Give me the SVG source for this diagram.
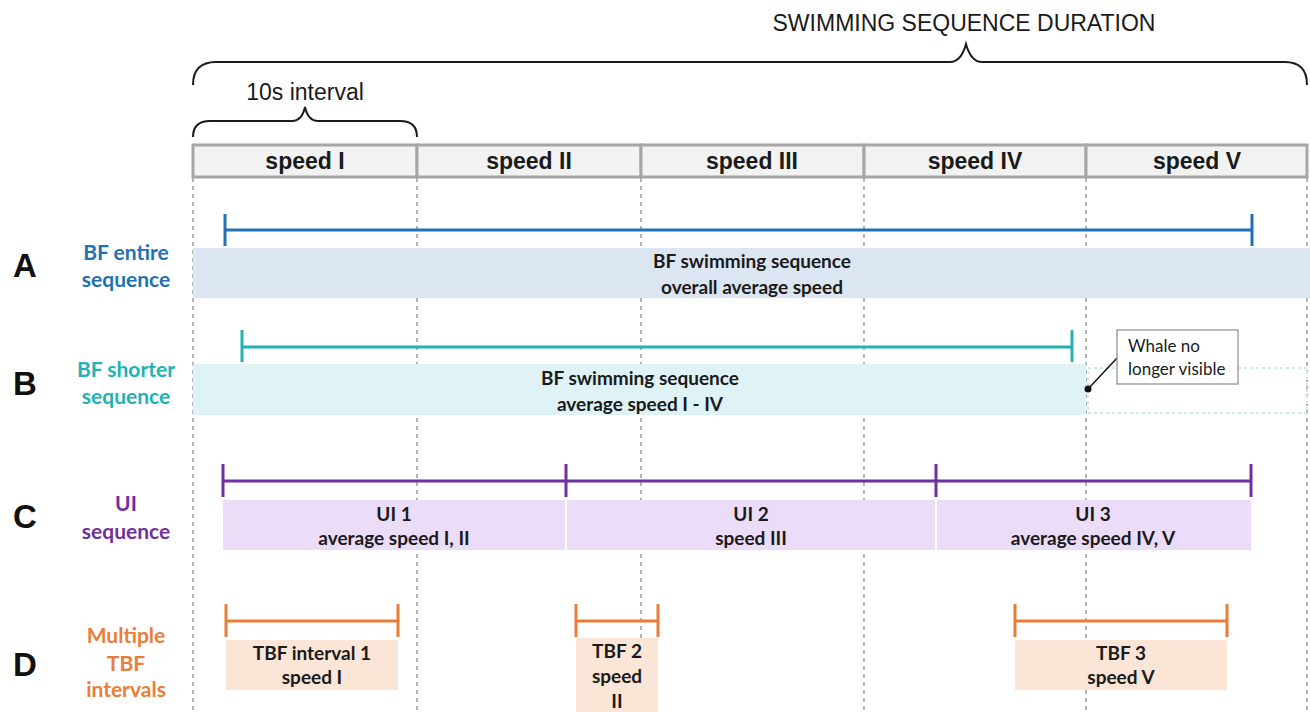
<svg xmlns="http://www.w3.org/2000/svg" width="1310" height="712" viewBox="0 0 1310 712">
  <style>
    .hdr { fill: #f2f2f2; stroke: #a6a6a6; stroke-width: 3; }
    .hdrtxt { font-family: "Liberation Sans", Arial, sans-serif; font-weight: bold; font-size: 23px; fill: #1a1a1a; text-anchor: middle; }
    .sans { font-family: "Liberation Sans", Arial, sans-serif; fill: #1a1a1a; text-anchor: middle; }
    .letter { font-family: "Liberation Sans", Arial, sans-serif; font-weight: bold; font-size: 33px; fill: #111; text-anchor: middle; }
    .lbl { font-family: Lato, "Open Sans", sans-serif; font-weight: bold; font-size: 21px; text-anchor: middle; }
    .bt { font-family: Lato, "Open Sans", sans-serif; font-weight: bold; font-size: 19px; fill: #1a1a1a; text-anchor: middle; }
    .grid { stroke: #8c8c8c; stroke-width: 1.3; stroke-dasharray: 4 4; fill: none; }
    .brace { fill: none; stroke: #1a1a1a; stroke-width: 2; }
    .blue { stroke: #2271b3; stroke-width: 3; fill: none; }
    .teal { stroke: #22b2b4; stroke-width: 3; fill: none; }
    .purple { stroke: #7030a0; stroke-width: 3; fill: none; }
    .orange { stroke: #ea7d37; stroke-width: 3; fill: none; }
  </style>

  <!-- time grid -->
  <g id="grid">
    <line class="grid" x1="193" y1="178" x2="193" y2="712"/>
    <line class="grid" x1="417" y1="178" x2="417" y2="712"/>
    <line class="grid" x1="641" y1="178" x2="641" y2="712"/>
    <line class="grid" x1="864" y1="178" x2="864" y2="712"/>
    <line class="grid" x1="1086" y1="178" x2="1086" y2="712"/>
    <line class="grid" x1="1307" y1="178" x2="1307" y2="712"/>
  </g>

  <!-- braces -->
  <g id="duration">
    <text class="sans" font-size="23" x="964" y="31">SWIMMING SEQUENCE DURATION</text>
    <path class="brace" d="M193,85 C193,70 200,62 216,62 L950,62 C958,62 963,55 966,44 C969,55 974,62 982,62 L1285,62 C1300,62 1307,70 1307,85"/>
  </g>
  <g id="interval">
    <text class="sans" font-size="23" x="305" y="100">10s interval</text>
    <path class="brace" d="M193,137 C193,127 198,121 210,121 L292,121 C299,121 303,116 305,107 C307,116 311,121 318,121 L400,121 C412,121 417,127 417,137"/>
  </g>

  <!-- speed header -->
  <g id="header">
    <rect class="hdr" x="193" y="145" width="224" height="32"/>
    <rect class="hdr" x="417" y="145" width="224" height="32"/>
    <rect class="hdr" x="641" y="145" width="223" height="32"/>
    <rect class="hdr" x="864" y="145" width="222" height="32"/>
    <rect class="hdr" x="1086" y="145" width="221" height="32"/>
    <text class="hdrtxt" x="305" y="169">speed I</text>
    <text class="hdrtxt" x="529" y="169">speed II</text>
    <text class="hdrtxt" x="752" y="169">speed III</text>
    <text class="hdrtxt" x="975" y="169">speed IV</text>
    <text class="hdrtxt" x="1197" y="169">speed V</text>
  </g>

  <!-- row A -->
  <g id="rowA">
    <text class="letter" x="25" y="277">A</text>
    <text class="lbl" x="126" y="260" fill="#2271b3">BF entire</text>
    <text class="lbl" x="126" y="287" fill="#2271b3">sequence</text>
    <rect x="193" y="248" width="1117" height="50" fill="#dce6f2"/>
    <path class="blue" d="M225,230 H1252 M225,214 V246 M1252,214 V246"/>
    <text class="bt" x="752" y="268">BF swimming sequence</text>
    <text class="bt" x="752" y="294">overall average speed</text>
  </g>

  <!-- row B -->
  <g id="rowB">
    <text class="letter" x="25" y="395">B</text>
    <text class="lbl" x="126" y="377" fill="#22b2b4">BF shorter</text>
    <text class="lbl" x="126" y="404" fill="#22b2b4">sequence</text>
    <rect x="193" y="364" width="893" height="51" fill="#dff2f6"/>
    <rect x="1088" y="368" width="219" height="45" fill="none" stroke="#cde9ee" stroke-width="2" stroke-dasharray="3 3"/>
    <path class="teal" d="M242,347 H1072 M242,330 V362 M1072,330 V362"/>
    <text class="bt" x="640" y="385">BF swimming sequence</text>
    <text class="bt" x="640" y="411">average speed I - IV</text>
  </g>

  <!-- callout -->
  <g id="callout">
    <line x1="1088" y1="389" x2="1118" y2="357" stroke="#111" stroke-width="1.5"/>
    <circle cx="1088" cy="389" r="3.5" fill="#111"/>
    <rect x="1117" y="330" width="121" height="54" fill="#fff" stroke="#8c8c8c" stroke-width="1.2"/>
    <text font-family="Lato, 'Open Sans', sans-serif" font-size="17" fill="#1a1a1a" x="1128" y="352">Whale no</text>
    <text font-family="Lato, 'Open Sans', sans-serif" font-size="17" fill="#1a1a1a" x="1128" y="375">longer visible</text>
  </g>

  <!-- row C -->
  <g id="rowC">
    <text class="letter" x="25" y="528">C</text>
    <text class="lbl" x="126" y="511" fill="#7030a0">UI</text>
    <text class="lbl" x="126" y="539" fill="#7030a0">sequence</text>
    <rect x="223" y="500" width="342" height="50" fill="#ebdcf8"/>
    <rect x="567" y="500" width="368" height="50" fill="#ebdcf8"/>
    <rect x="937" y="500" width="314" height="50" fill="#ebdcf8"/>
    <path class="purple" d="M223,481 H1251 M223,464 V497 M566,464 V497 M936,464 V497 M1251,464 V497"/>
    <text class="bt" x="394" y="521">UI 1</text>
    <text class="bt" x="394" y="545">average speed I, II</text>
    <text class="bt" x="751" y="521">UI 2</text>
    <text class="bt" x="751" y="545">speed III</text>
    <text class="bt" x="1093" y="521">UI 3</text>
    <text class="bt" x="1093" y="545">average speed IV, V</text>
  </g>

  <!-- row D -->
  <g id="rowD">
    <text class="letter" x="25" y="676">D</text>
    <text class="lbl" x="126" y="643" fill="#ea7d37">Multiple</text>
    <text class="lbl" x="126" y="671" fill="#ea7d37">TBF</text>
    <text class="lbl" x="126" y="697" fill="#ea7d37">intervals</text>
    <rect x="226" y="640" width="172" height="50" fill="#fbe5d6"/>
    <rect x="576" y="638" width="82" height="74" fill="#fbe5d6"/>
    <rect x="1015" y="640" width="212" height="50" fill="#fbe5d6"/>
    <path class="orange" d="M226,621 H398 M226,604 V637 M398,604 V637"/>
    <path class="orange" d="M576,621 H658 M576,604 V637 M658,604 V637"/>
    <path class="orange" d="M1015,621 H1227 M1015,604 V637 M1227,604 V637"/>
    <text class="bt" x="312" y="660">TBF interval 1</text>
    <text class="bt" x="312" y="684">speed I</text>
    <text class="bt" x="617" y="658">TBF 2</text>
    <text class="bt" x="617" y="683">speed</text>
    <text class="bt" x="617" y="708">II</text>
    <text class="bt" x="1121" y="660">TBF 3</text>
    <text class="bt" x="1121" y="684">speed V</text>
  </g>
</svg>
